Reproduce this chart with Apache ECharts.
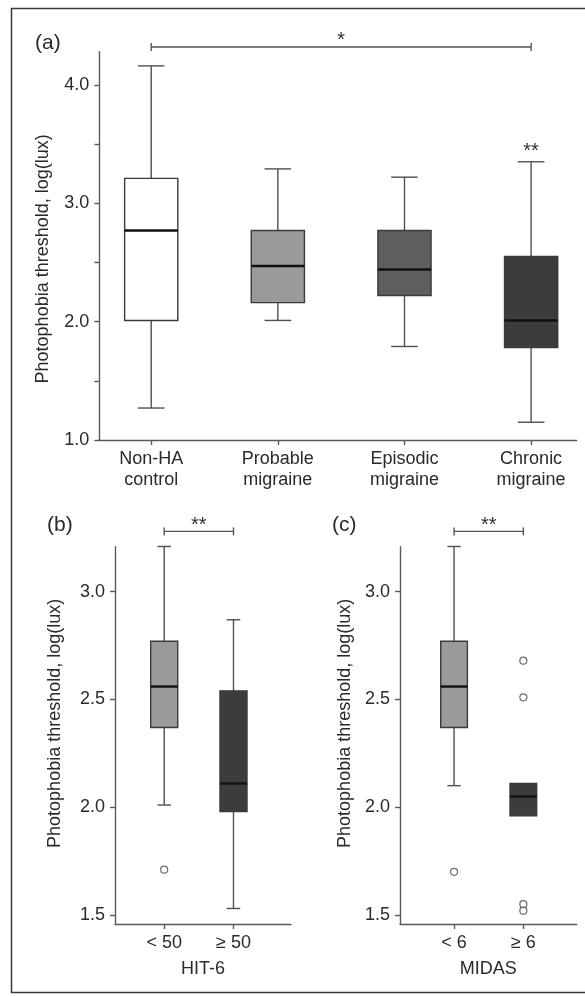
<!DOCTYPE html>
<html><head><meta charset="utf-8">
<script src="https://cdn.jsdelivr.net/npm/echarts@6/dist/echarts.min.js"></script>
<style>html,body{margin:0;padding:0;background:#fff}#c{width:585px;height:996px}</style>
</head><body><div id="c"></div>
<script>
// ---------- data ----------
const groupsA = ['Non-HA\ncontrol', 'Probable\nmigraine', 'Episodic\nmigraine', 'Chronic\nmigraine'];
// each box: [min, Q1, median, Q3, max]
const boxA = [
  [1.27, 2.01, 2.77, 3.21, 4.16],
  [2.01, 2.16, 2.47, 2.77, 3.29],
  [1.79, 2.22, 2.44, 2.77, 3.22],
  [1.15, 1.78, 2.01, 2.55, 3.35]
];
const groupsB = ['< 50', '≥ 50'];
const boxB = [
  [2.01, 2.37, 2.56, 2.77, 3.21],
  [1.53, 1.98, 2.11, 2.54, 2.87]
];
const outliersB = [[1, 1.71]];           // [group number, value]
const groupsC = ['< 6', '≥ 6'];
const boxC = [
  [2.10, 2.37, 2.56, 2.77, 3.21],
  [1.96, 1.96, 2.05, 2.11, 2.11]
];
const outliersC = [[1, 1.70], [2, 2.68], [2, 2.51], [2, 1.55], [2, 1.52]];
const ticksA = [1.0, 1.5, 2.0, 2.5, 3.0, 3.5, 4.0];
const tickLabelsA = [1.0, 2.0, 3.0, 4.0];
const ticksBC = [1.5, 2.0, 2.5, 3.0];
const yTitle = 'Photophobia threshold, log(lux)';
// significance: [from group, to group, bracket level (value), label]
const bracketsA = [[1, 4, 4.32, '*']];
const bracketsB = [[1, 2, 3.28, '**']];
const bracketsC = [[1, 2, 3.28, '**']];
// marks above a whisker: [group, whisker top value, label]
const starsA = [[4, 3.35, '**']];

// ---------- styles ----------
const FONT = 'Liberation Sans, Arial, sans-serif';
const TXT = '#2a2a2a';
const AX = '#5a5a5a';
const fillsA = ['#ffffff', '#9a9a9a', '#5e5e5e', '#3c3c3c'];
const fillsBC = ['#9a9a9a', '#3c3c3c'];

function boxRender(fills, boxW) {
  return function (params, api) {
    const x = api.value(0);
    const mn = api.value(1), q1 = api.value(2), md = api.value(3), q3 = api.value(4), mx = api.value(5);
    const pMin = api.coord([x, mn]), pQ1 = api.coord([x, q1]), pMd = api.coord([x, md]),
          pQ3 = api.coord([x, q3]), pMax = api.coord([x, mx]);
    const w = api.size([boxW, 0])[0], hw = w / 2, cw = w / 4;
    const cx = pMd[0];
    const wl = { stroke: '#505050', lineWidth: 1.4 };
    const ch = [];
    if (mx > q3) {
      ch.push({ type: 'line', shape: { x1: cx, y1: pQ3[1], x2: cx, y2: pMax[1] }, style: wl });
      ch.push({ type: 'line', shape: { x1: cx - cw, y1: pMax[1], x2: cx + cw, y2: pMax[1] }, style: wl });
    }
    if (mn < q1) {
      ch.push({ type: 'line', shape: { x1: cx, y1: pQ1[1], x2: cx, y2: pMin[1] }, style: wl });
      ch.push({ type: 'line', shape: { x1: cx - cw, y1: pMin[1], x2: cx + cw, y2: pMin[1] }, style: wl });
    }
    ch.push({ type: 'rect', shape: { x: cx - hw, y: pQ3[1], width: w, height: pQ1[1] - pQ3[1] },
      style: { fill: fills[params.dataIndex], stroke: '#3a3a3a', lineWidth: 1.4 } });
    ch.push({ type: 'line', shape: { x1: cx - hw, y1: pMd[1], x2: cx + hw, y2: pMd[1] },
      style: { stroke: '#111', lineWidth: 2.4 } });
    return { type: 'group', children: ch };
  };
}

function bracketRender(params, api) {
  const a = api.coord([api.value(0), api.value(2)]);
  const b = api.coord([api.value(1), api.value(2)]);
  const st = { stroke: '#555', lineWidth: 1.4 };
  return { type: 'group', children: [
    { type: 'line', shape: { x1: a[0], y1: a[1], x2: b[0], y2: b[1] }, style: st },
    { type: 'line', shape: { x1: a[0], y1: a[1] - 4, x2: a[0], y2: a[1] + 4 }, style: st },
    { type: 'line', shape: { x1: b[0], y1: b[1] - 4, x2: b[0], y2: b[1] + 4 }, style: st },
    { type: 'text', x: (a[0] + b[0]) / 2, y: a[1] - 6,
      style: { text: api.value(3), fill: '#333', fontSize: 20, fontFamily: FONT, align: 'center', verticalAlign: 'middle' } }
  ] };
}

function starRender(params, api) {
  const p = api.coord([api.value(0), api.value(1)]);
  return { type: 'text', x: p[0], y: p[1] - 10,
    style: { text: api.value(2), fill: '#333', fontSize: 20, fontFamily: FONT, align: 'center', verticalAlign: 'middle' } };
}

function xAxisDef(gi, groups, min, max, name) {
  const vals = groups.map((g, i) => i + 1);
  return {
    type: 'value', gridIndex: gi, min: min, max: max, splitLine: { show: false },
    axisLine: { lineStyle: { color: AX, width: 1.4 } },
    axisTick: { customValues: vals, length: 5, lineStyle: { color: AX, width: 1.4 } },
    axisLabel: { customValues: vals, formatter: v => groups[Math.round(v) - 1], color: TXT,
      fontSize: 18, fontFamily: FONT, lineHeight: 21, margin: 9 },
    name: name, nameLocation: 'middle', nameGap: 36,
    nameTextStyle: { color: TXT, fontSize: 18, fontFamily: FONT }
  };
}
function yAxisDef(gi, min, max, ticks, labels, gap, pad) {
  return {
    type: 'value', gridIndex: gi, min: min, max: max, splitLine: { show: false },
    axisLine: { show: true, lineStyle: { color: AX, width: 1.4 } },
    axisTick: { show: true, customValues: ticks, length: 5, lineStyle: { color: AX, width: 1.4 } },
    axisLabel: { customValues: labels, formatter: v => v.toFixed(1), color: TXT, fontSize: 18, fontFamily: FONT, margin: 10 },
    name: yTitle, nameLocation: 'middle', nameGap: gap, nameRotate: 90,
    nameTextStyle: { color: TXT, fontSize: 18, fontFamily: FONT, padding: pad }
  };
}

const chart = echarts.init(document.getElementById('c'), null, { renderer: 'canvas' });
chart.setOption({
  animation: false,
  backgroundColor: '#fff',
  textStyle: { fontFamily: FONT },
  graphic: [
    { type: 'rect', shape: { x: 11.5, y: 8.5, width: 600, height: 984 }, style: { fill: 'none', stroke: '#3a3a3a', lineWidth: 1.5 } },
    { type: 'text', left: 35, top: 33, style: { text: '(a)', fontSize: 21, fontFamily: FONT, fill: TXT } },
    { type: 'text', left: 47, top: 515, style: { text: '(b)', fontSize: 21, fontFamily: FONT, fill: TXT } },
    { type: 'text', left: 332, top: 515, style: { text: '(c)', fontSize: 21, fontFamily: FONT, fill: TXT } }
  ],
  grid: [
    { left: 99.3, top: 51.7, width: 477.4, height: 388.3 },
    { left: 115, top: 546.7, width: 176, height: 377.3 },
    { left: 400, top: 546.7, width: 176.7, height: 377.3 }
  ],
  xAxis: [
    xAxisDef(0, groupsA, 0.59, 4.36, ''),
    xAxisDef(1, groupsB, 0.29, 2.83, 'HIT-6'),
    xAxisDef(2, groupsC, 0.22, 2.77, 'MIDAS')
  ],
  yAxis: [
    yAxisDef(0, 1.0, 4.28, ticksA, tickLabelsA, 47, [0, 26, 0, 0]),
    yAxisDef(1, 1.458, 3.209, ticksBC, ticksBC, 51, [0, 0, 0, 24]),
    yAxisDef(2, 1.458, 3.209, ticksBC, ticksBC, 46, [0, 0, 0, 24])
  ],
  series: [
    { type: 'custom', xAxisIndex: 0, yAxisIndex: 0, renderItem: boxRender(fillsA, 0.42),
      encode: { x: 0, y: [1, 2, 3, 4, 5] }, data: boxA.map((b, i) => [i + 1].concat(b)) },
    { type: 'custom', xAxisIndex: 1, yAxisIndex: 1, renderItem: boxRender(fillsBC, 0.39),
      encode: { x: 0, y: [1, 2, 3, 4, 5] }, data: boxB.map((b, i) => [i + 1].concat(b)) },
    { type: 'custom', xAxisIndex: 2, yAxisIndex: 2, renderItem: boxRender(fillsBC, 0.385),
      encode: { x: 0, y: [1, 2, 3, 4, 5] }, data: boxC.map((b, i) => [i + 1].concat(b)) },
    { type: 'scatter', xAxisIndex: 1, yAxisIndex: 1, data: outliersB, symbol: 'circle', symbolSize: 7,
      itemStyle: { color: '#fff', borderColor: '#444', borderWidth: 1.2 } },
    { type: 'scatter', xAxisIndex: 2, yAxisIndex: 2, data: outliersC, symbol: 'circle', symbolSize: 7,
      itemStyle: { color: '#fff', borderColor: '#444', borderWidth: 1.2 } },
    { type: 'custom', xAxisIndex: 0, yAxisIndex: 0, clip: false, renderItem: bracketRender,
      encode: { x: [0, 1], y: 2 }, data: bracketsA },
    { type: 'custom', xAxisIndex: 1, yAxisIndex: 1, clip: false, renderItem: bracketRender,
      encode: { x: [0, 1], y: 2 }, data: bracketsB },
    { type: 'custom', xAxisIndex: 2, yAxisIndex: 2, clip: false, renderItem: bracketRender,
      encode: { x: [0, 1], y: 2 }, data: bracketsC },
    { type: 'custom', xAxisIndex: 0, yAxisIndex: 0, clip: false, renderItem: starRender,
      encode: { x: 0, y: 1 }, data: starsA }
  ]
});
</script></body></html>
